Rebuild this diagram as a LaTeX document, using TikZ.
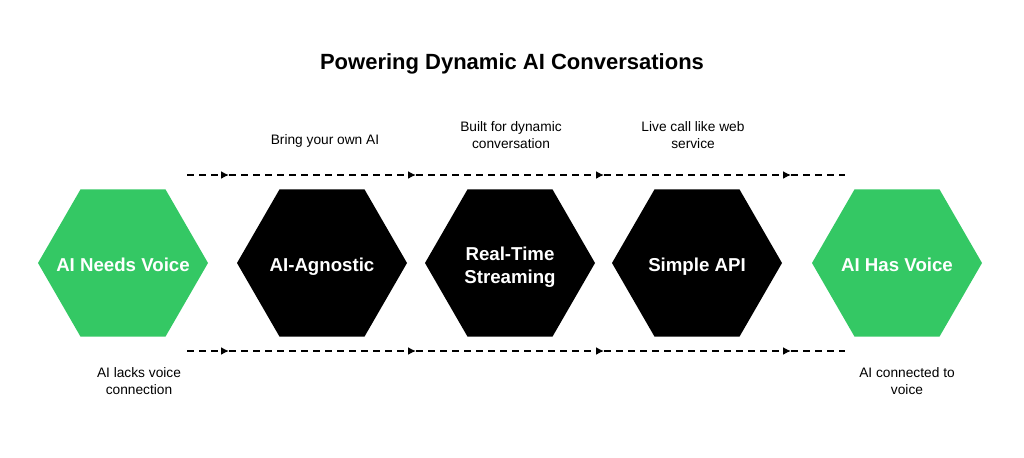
\documentclass[tikz,border=0pt]{standalone}
\usepackage{fontspec}
\setmainfont{Liberation Sans}
\usetikzlibrary{shapes.geometric,arrows.meta,positioning}

\definecolor{voicegreen}{RGB}{52,200,100}

\tikzset{
  hexa/.style={regular polygon, regular polygon sides=6, minimum size=127.5pt,
    inner sep=0pt, outer sep=0pt},
  hextext/.style={text=white, align=center, inner sep=0pt,
    font=\bfseries\fontsize{14}{17}\selectfont},
  hexline/.style={hextext, anchor=base, yshift=-6.5pt},
  note/.style={align=center, inner sep=0pt, font=\fontsize{10.3}{13.2}\selectfont},
  headline/.style={font=\bfseries\fontsize{16.5}{20}\selectfont, inner sep=0pt},
  flow/.style={line width=1.4pt, dash pattern=on 5.25pt off 3.75pt},
  flowtip/.style={flow, -{Latex[length=6pt,width=6pt]}}
}

\begin{document}
\begin{tikzpicture}[x=0.75pt,y=-0.75pt]
  \useasboundingbox (0,0) rectangle (1024,457);
  \node[headline] (title) at (512,64) {Powering Dynamic AI Conversations};

  % hexagons
  \node[hexa,fill=voicegreen] (needs) at (123,263) {};
  \node[hexa,fill=black] (agnostic) at (322,263) {};
  \node[hexa,fill=black] (stream) at (510,263) {};
  \node[hexa,fill=black] (api) at (697,263) {};
  \node[hexa,fill=voicegreen] (has) at (897,263) {};
  \node[hexline] (needs-t) at (needs) {AI Needs Voice};
  \node[hexline] (agnostic-t) at (agnostic) {AI-Agnostic};
  \node[hextext, yshift=-3pt] (stream-t) at (stream) {Real-Time\\Streaming};
  \node[hexline] (api-t) at (api) {Simple API};
  \node[hexline] (has-t) at (has) {AI Has Voice};

  % notes
  \node[note] (ownai) at (325,141) {Bring your own AI};
  \node[note] (dynamic) at (511,135) {Built for dynamic\\conversation};
  \node[note] (live) at (693,135) {Live call like web\\service};
  \node[note] (lacks) at (139,381) {AI lacks voice\\connection};
  \node[note] (connected) at (907,381) {AI connected to\\voice};

  % dashed flow lines
  \foreach \r/\y in {top/175,bot/351}
    \foreach \i/\x in {0/187,1/229,2/416,3/604,4/791,5/845}
      \coordinate (\r\i) at (\x,\y);
  \foreach \r in {top,bot} {
    \foreach \a/\b in {0/1,1/2,2/3,3/4}
      \draw[flowtip] (\r\a) -- (\r\b);
    \draw[flow] (\r4) -- (\r5);
  }
\end{tikzpicture}
\end{document}
